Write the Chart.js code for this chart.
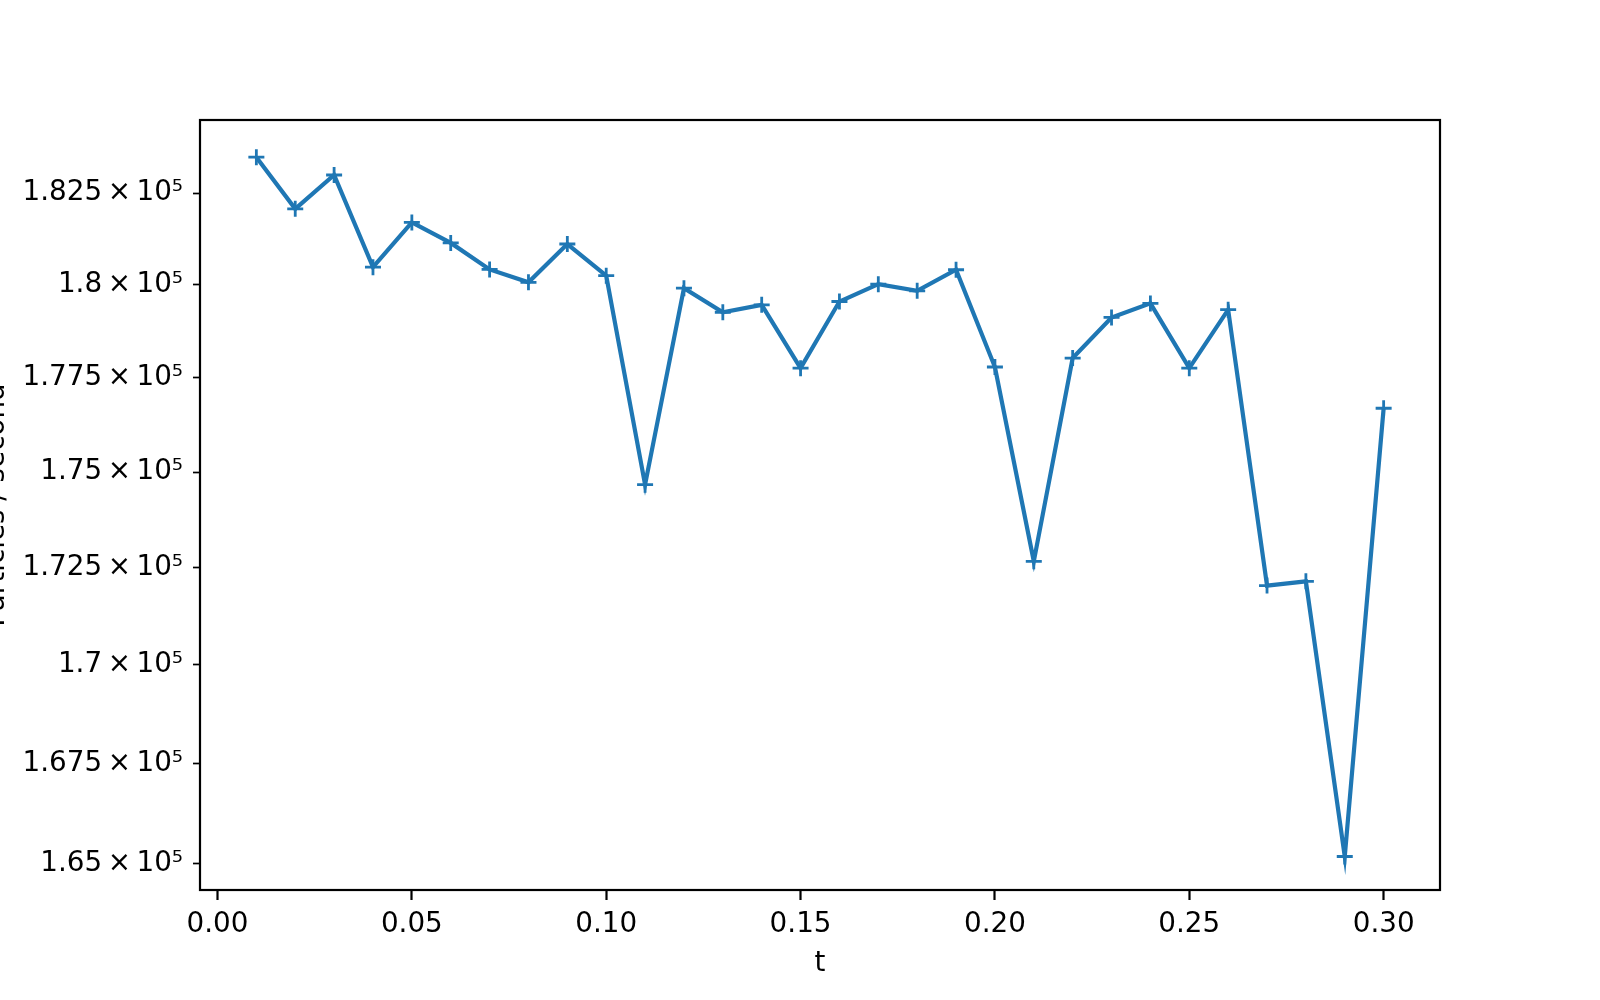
<!DOCTYPE html>
<html>
<head>
<meta charset="utf-8">
<script src="https://cdn.jsdelivr.net/npm/chart.js@4.4.1/dist/chart.umd.min.js"></script>
<style>
  html, body { margin: 0; padding: 0; background: #fff; overflow: hidden; }
  #wrap { position: absolute; left: -20px; top: 0; width: 1620px; height: 1000px; }
</style>
</head>
<body>
<div id="wrap"><canvas id="rateChart" width="1620" height="1000"></canvas></div>
<script>
// Dữ liệu
const times = [0.01, 0.02, 0.03, 0.04, 0.05, 0.06, 0.07, 0.08, 0.09, 0.10,
               0.11, 0.12, 0.13, 0.14, 0.15, 0.16, 0.17, 0.18, 0.19, 0.20,
               0.21, 0.22, 0.23, 0.24, 0.25, 0.26, 0.27, 0.28, 0.29, 0.30];
const rates = [183490, 182070, 183000, 180480, 181700, 181140, 180420, 180070, 181110, 180250,
               174670, 179910, 179260, 179460, 177760, 179550, 180020, 179840, 180410, 177790,
               172670, 178030, 179120, 179500, 177760, 179330, 172040, 172150, 165170, 176690];

const xTicks = [0.00, 0.05, 0.10, 0.15, 0.20, 0.25, 0.30];
const yTicks = [165000, 167500, 170000, 172500, 175000, 177500, 180000, 182500];
const yTickLabels = ['1.65\u2009×\u200910⁵', '1.675\u2009×\u200910⁵', '1.7\u2009×\u200910⁵', '1.725\u2009×\u200910⁵',
                     '1.75\u2009×\u200910⁵', '1.775\u2009×\u200910⁵', '1.8\u2009×\u200910⁵', '1.825\u2009×\u200910⁵'];

Chart.defaults.font.family = "'DejaVu Sans', sans-serif";
Chart.defaults.font.size = 27.8;
Chart.defaults.color = '#000';

// Khung viền 4 cạnh giống matplotlib
const frame = {
  id: 'frame',
  afterDatasetsDraw(chart) {
    const { ctx, chartArea: a } = chart;
    ctx.save();
    ctx.strokeStyle = '#000';
    ctx.lineWidth = 2.2;
    ctx.strokeRect(a.left, a.top, a.right - a.left, a.bottom - a.top);
    ctx.restore();
  }
};

const ctx = document.getElementById('rateChart').getContext('2d');

const chart = new Chart(ctx, {
  type: 'line',
  data: {
    datasets: [{
      label: 'rate',
      data: times.map((t, i) => ({ x: t, y: rates[i] })),
      borderColor: '#1f77b4',
      backgroundColor: '#1f77b4',
      borderWidth: 4.2,
      tension: 0,
      pointStyle: 'cross',
      pointRadius: 8,
      pointBorderWidth: 2.8,
      pointBorderColor: '#1f77b4'
    }]
  },
  options: {
    responsive: false,
    animation: false,
    layout: { padding: { left: 0, top: 120, right: 160, bottom: 0 } },
    plugins: {
      legend: { display: false },
      tooltip: { enabled: false }
    },
    scales: {
      x: {
        type: 'linear',
        bounds: 'data',
        min: -0.0045,
        max: 0.3145,
        afterBuildTicks: s => { s.ticks = xTicks.map(v => ({ value: v })); },
        afterFit: s => { s.height = 110; },
        ticks: {
          padding: 8,
          maxRotation: 0,
          callback: v => v.toFixed(2)
        },
        grid: {
          drawOnChartArea: false,
          drawTicks: true,
          tickLength: 10,
          tickWidth: 2.2,
          color: '#000'
        },
        border: { display: false },
        title: { display: true, text: 't', padding: { top: 0, bottom: 20 } }
      },
      y: {
        type: 'logarithmic',
        bounds: 'data',
        min: 164340,
        max: 184520,
        afterBuildTicks: s => { s.ticks = yTicks.map(v => ({ value: v })); },
        afterFit: s => { s.width = 220; },
        ticks: {
          padding: 10,
          callback: v => yTickLabels[yTicks.indexOf(v)]
        },
        grid: {
          drawOnChartArea: false,
          drawTicks: true,
          tickLength: 7,
          tickWidth: 1.7,
          color: '#000'
        },
        border: { display: false },
        title: { display: true, text: 'Particles / second', padding: 0 }
      }
    }
  },
  plugins: [frame]
});
</script>
</body>
</html>
